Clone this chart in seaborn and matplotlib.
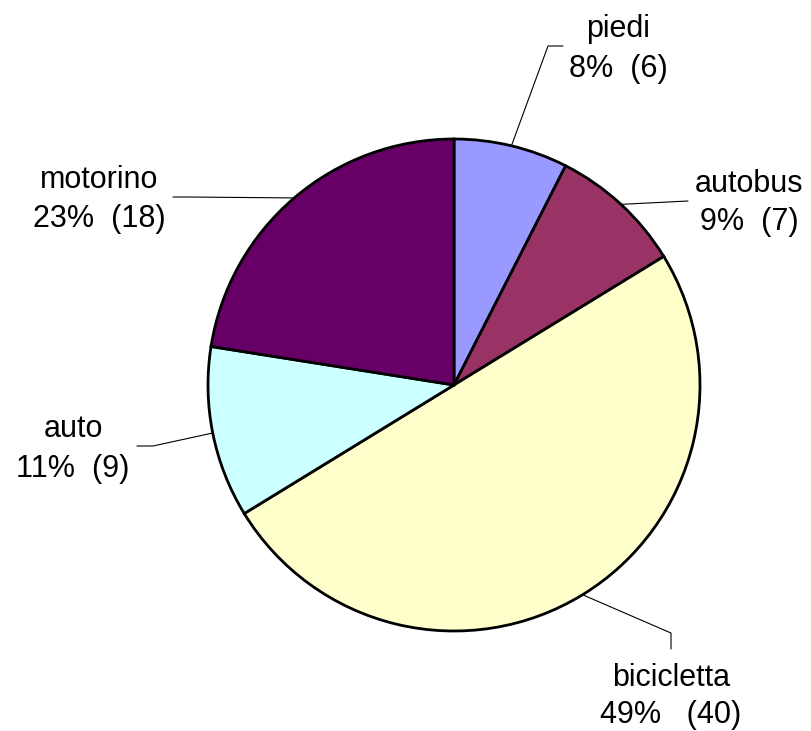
import numpy as np
import matplotlib
matplotlib.use("Agg")
import matplotlib.pyplot as plt
import seaborn as sns

# dati del grafico
categorie = ["piedi", "autobus", "bicicletta", "auto", "motorino"]
valori = [6, 7, 40, 9, 18]
percentuali = ["8%", "9%", "49%", "11%", "23%"]
colori = ["#9999FF", "#993366", "#FFFFCC", "#CCFFFF", "#660066"]

sns.set_theme(style="white")
plt.rcParams["font.family"] = ["Liberation Sans", "DejaVu Sans"]

W, H = 811, 731
fig = plt.figure(figsize=(W / 100, H / 100), dpi=100)
ax = fig.add_axes([0, 0, 1, 1])


def py(y):
    # coordinate in pixel (dall'alto) -> coordinate asse
    return H - y


centro = (454, py(385))
raggio = 246
wedges, _ = ax.pie(valori, colors=colori, startangle=90, counterclock=False,
                   center=centro, radius=raggio, frame=True,
                   wedgeprops=dict(edgecolor="black", linewidth=2.0))

# posizioni etichette: (x centro, baseline riga 1, baseline riga 2)
pos_testo = {
    "piedi": (618, 37, 77),
    "autobus": (749, 192, 230),
    "bicicletta": (671, 686, 723),
    "auto": (73, 437, 477),
    "motorino": (99, 188, 227),
}
# linee guida: punti di gomito (in pixel)
gomiti = {
    "piedi": [(548, 46), (563, 46)],
    "autobus": [(688, 201)],
    "bicicletta": [(671, 633), (671, 649)],
    "auto": [(153, 446), (137, 446)],
    "motorino": [(187, 197), (173, 197)],
}
spazi = {"bicicletta": "   "}

for w, cat, val, pct in zip(wedges, categorie, valori, percentuali):
    ang = np.deg2rad((w.theta1 + w.theta2) / 2)
    x0 = centro[0] + raggio * np.cos(ang)
    y0 = centro[1] + raggio * np.sin(ang)
    xs = [x0] + [p[0] for p in gomiti[cat]]
    ys = [y0] + [py(p[1]) for p in gomiti[cat]]
    ax.plot(xs, ys, color="black", linewidth=0.8, zorder=0)
    x, b1, b2 = pos_testo[cat]
    sep = spazi.get(cat, "  ")
    ax.text(x, py(b1), cat, ha="center", va="baseline", fontsize=22, color="black")
    ax.text(x, py(b2), f"{pct}{sep}({val})", ha="center", va="baseline",
            fontsize=22, color="black")

ax.set_xlim(0, W)
ax.set_ylim(0, H)
ax.set_aspect("equal")
ax.axis("off")

fig.savefig("out.png", dpi=100, facecolor="white")
